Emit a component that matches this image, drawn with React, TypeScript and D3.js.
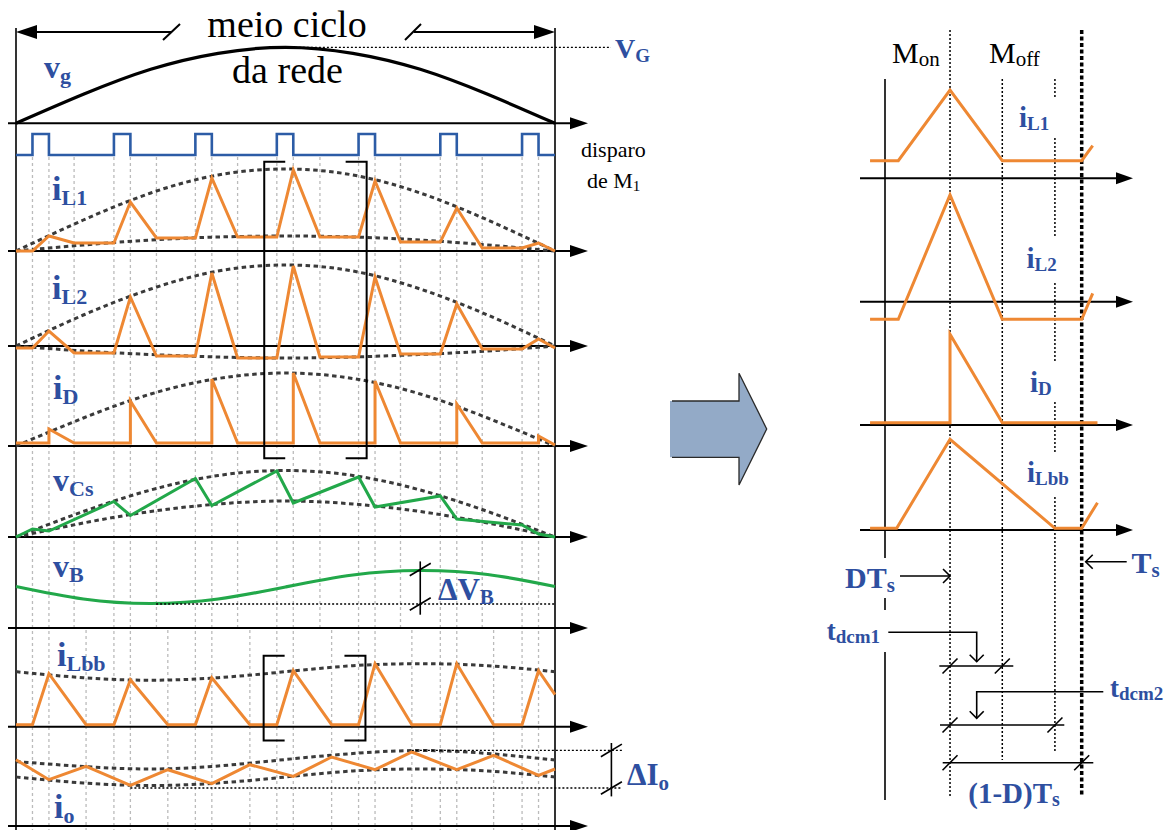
import React from 'react';
import * as d3 from 'd3';

// ---------------- data ----------------
// time along the half line cycle, in electrical degrees
const switchOn = [5.5, 32.7, 59.9, 87.1, 114.4, 141.7, 169.0];
const switchOff = [11.0, 38.2, 65.4, 92.6, 119.9, 147.2, 174.5];
const dcm1End = [19.4, 46.9, 74.0, 101.5, 128.4, 155.7];
const dcm2End = [23.4, 50.7, 78.1, 105.4, 132.2, 159.5];

// envelope sample instants
const envT = [0, 22.5, 45, 67.5, 90, 112.5, 135, 157.5, 180];
const vgVals = [0, 0.29, 0.54, 0.7, 0.76, 0.7, 0.54, 0.29, 0];
const iL1Upper = [0, 0.31, 0.58, 0.76, 0.82, 0.76, 0.58, 0.31, 0];
const iL1Lower = [0, 0.06, 0.11, 0.14, 0.15, 0.14, 0.11, 0.06, 0];
const iL2Upper = [0, 0.31, 0.57, 0.75, 0.81, 0.75, 0.57, 0.31, 0];
const iL2Lower = [0, -0.05, -0.085, -0.11, -0.12, -0.11, -0.085, -0.05, 0];
const iDUpper = [0, 0.28, 0.52, 0.675, 0.73, 0.675, 0.52, 0.28, 0];
const vCsUpper = [0, 0.255, 0.47, 0.615, 0.665, 0.615, 0.47, 0.255, 0];
const vCsLower = [0, 0.14, 0.255, 0.33, 0.36, 0.33, 0.255, 0.14, 0];
const vBVals = [0.415, 0.29, 0.245, 0.29, 0.41, 0.53, 0.575, 0.535, 0.415];
const iLbbUpper = [0.55, 0.49, 0.465, 0.49, 0.55, 0.61, 0.63, 0.61, 0.55];
const ioUpper = [0.645, 0.595, 0.57, 0.6, 0.665, 0.725, 0.755, 0.725, 0.66];
const ioLower = [0.49, 0.43, 0.405, 0.43, 0.49, 0.55, 0.57, 0.55, 0.49];

type P = [number, number];
const iL1Wave: P[] = [[0, 0], [5.5, 0], [11.0, 0.15], [19.4, 0.08], [32.7, 0.08], [38.2, 0.49], [46.9, 0.13], [59.9, 0.13], [65.4, 0.73], [74.0, 0.14], [87.1, 0.14], [92.6, 0.81], [101.5, 0.14], [114.4, 0.14], [119.9, 0.7], [128.4, 0.09], [141.7, 0.09], [147.2, 0.43], [155.7, 0.03], [169.0, 0.03], [174.5, 0.08], [180, 0]];
const iL2Wave: P[] = [[0, -0.02], [5.5, -0.02], [11.0, 0.15], [19.4, -0.07], [32.7, -0.07], [38.2, 0.49], [46.9, -0.1], [59.9, -0.1], [65.4, 0.73], [74.0, -0.12], [87.1, -0.12], [92.6, 0.8], [101.5, -0.11], [114.4, -0.11], [119.9, 0.69], [128.4, -0.08], [141.7, -0.08], [147.2, 0.42], [155.7, -0.03], [169.0, -0.03], [174.5, 0.07], [180, -0.02]];
const iDWave: P[] = [[0, 0.03], [11.0, 0.03], [11.0, 0.17], [19.4, 0.03], [38.2, 0.03], [38.2, 0.45], [46.9, 0.03], [65.4, 0.03], [65.4, 0.67], [74.0, 0.03], [92.6, 0.03], [92.6, 0.73], [101.5, 0.03], [119.9, 0.03], [119.9, 0.65], [128.4, 0.03], [147.2, 0.03], [147.2, 0.42], [155.7, 0.03], [174.5, 0.03], [174.5, 0.1], [180, 0.01]];
const vCsWave: P[] = [[0, 0], [5.5, 0.08], [11.0, 0.06], [32.7, 0.355], [38.2, 0.215], [59.9, 0.585], [65.4, 0.315], [87.1, 0.66], [92.6, 0.34], [114.4, 0.6], [119.9, 0.3], [141.7, 0.41], [147.2, 0.18], [169.0, 0.12], [174.5, 0.03], [180, 0]];
const iLbbWave: P[] = [[0, 0.02], [5.5, 0.02], [11.0, 0.53], [23.4, 0.02], [32.7, 0.02], [38.2, 0.47], [50.7, 0.02], [59.9, 0.02], [65.4, 0.49], [78.1, 0.02], [87.1, 0.02], [92.6, 0.56], [105.4, 0.02], [114.4, 0.02], [119.9, 0.63], [132.2, 0.02], [141.7, 0.02], [147.2, 0.63], [159.5, 0.02], [169.0, 0.02], [174.5, 0.56], [180, 0.32]];
const ioWave: P[] = [[0, 0.663], [11.0, 0.463], [23.4, 0.596], [38.2, 0.406], [50.7, 0.563], [65.4, 0.423], [78.1, 0.613], [92.6, 0.496], [105.4, 0.69], [119.9, 0.563], [132.2, 0.74], [147.2, 0.563], [159.5, 0.706], [174.5, 0.506], [180, 0.57]];

// one switching period (time / Ts)
const iL1Period: P[] = [[-0.154, 0.176], [0, 0.176], [0.282, 0.883], [0.567, 0.176], [1, 0.176], [1.06, 0.326]];
const iL2Period: P[] = [[-0.154, -0.176], [0, -0.176], [0.282, 1.067], [0.567, -0.176], [1, -0.176], [1.06, 0.084]];
const iDPeriod: P[] = [[-0.154, 0.023], [0.282, 0.023], [0.282, 0.907], [0.567, 0.023], [1.086, 0.023]];
const iLbbPeriod: P[] = [[-0.154, 0.017], [-0.009, 0.017], [0.282, 0.907], [0.854, 0.017], [1, 0.017], [1.086, 0.273]];
const dutyD = 0.282;
const tdcm1 = 0.567;
const tdcm2 = 0.854;

// ---------------- style ----------------
const SERIF = '"Liberation Serif", "Times New Roman", "DejaVu Serif", serif';
const ORANGE = '#EE8833';
const GREEN = '#22A84A';
const GATE = '#2C5CA6';
const LBL = '#2E4FA0';
const GRID = '#BBBBBB';
const ENV = '#3A3A3A';

function Lbl(props: { x: number; y: number; main: string; sub?: string; size?: number; subSize?: number; dy?: number; fill?: string; weight?: string; anchor?: string }) {
  const { x, y, main, sub, size = 34, subSize = 22, dy = 5, fill = LBL, weight = 'bold', anchor = 'start' } = props;
  return (
    <text x={x} y={y} fontFamily={SERIF} fontWeight={weight} fontSize={size} fill={fill} textAnchor={anchor as any}>
      {main}
      {sub ? <tspan fontSize={subSize} dy={dy}>{sub}</tspan> : null}
    </text>
  );
}

export default function App() {
  const xL = d3.scaleLinear().domain([0, 180]).range([16, 555]);
  const xR = d3.scaleLinear().domain([0, 1]).range([898.3, 1081.7]);
  const yP = (axis: number) => d3.scaleLinear().domain([0, 1]).range([axis, axis - 100]);
  const AX = { vg: 123.3, iL1: 251, iL2: 346, iD: 446, vCs: 537, vB: 628, iLbb: 726.7, io: 826 };
  const yVg = yP(AX.vg), yL1 = yP(AX.iL1), yL2 = yP(AX.iL2), yD = yP(AX.iD), yCs = yP(AX.vCs), yB = yP(AX.vB), yLbb = yP(AX.iLbb), yIo = yP(AX.io);
  const yGate = d3.scaleLinear().domain([0, 1]).range([155, 134]);
  const RAX = { iL1: 178.3, iL2: 301.7, iD: 425, iLbb: 530 };
  const yR1 = yP(RAX.iL1), yR2 = yP(RAX.iL2), yRD = yP(RAX.iD), yRL = yP(RAX.iLbb);

  const mk = (pts: P[], ys: d3.ScaleLinear<number, number>, xs: d3.ScaleLinear<number, number> = xL, curve: d3.CurveFactory = d3.curveLinear) =>
    d3.line<P>().x(d => xs(d[0])).y(d => ys(d[1])).curve(curve)(pts) || '';
  const env = (vals: number[]) => envT.map((t, i) => [t, vals[i]] as P);
  const smooth = (vals: number[], ys: d3.ScaleLinear<number, number>) => mk(env(vals), ys, xL, d3.curveNatural);

  const gatePts: P[] = [[0, 0]];
  switchOn.forEach((t, i) => { gatePts.push([t, 0], [t, 1], [switchOff[i], 1], [switchOff[i], 0]); });
  gatePts.push([180, 0]);

  const envStyle = { fill: 'none', stroke: ENV, strokeWidth: 3, strokeDasharray: '4.5 3.5' } as const;
  const waveStyle = (c: string) => ({ fill: 'none', stroke: c, strokeWidth: 3, strokeLinejoin: 'miter' as const });

  const slash = (x: number, y: number, w = 10.5, h = 6.3) => <line x1={x - w} y1={y + h} x2={x + w} y2={y - h} stroke="#000" strokeWidth={1.6} />;
  const arrowR = (x: number, y: number, len = 18, hw = 6) => <polygon points={`${x},${y} ${x - len},${y - hw} ${x - len},${y + hw}`} fill="#000" />;

  const leftAxes = Object.values(AX);
  const rightAxes = Object.values(RAX);

  const bracket = (t0: number, t1: number, top: number, bot: number) => {
    const x0 = xL(t0), x1 = xL(t1);
    return (
      <g fill="none" stroke="#000" strokeWidth={2}>
        <path d={`M${x0 + 21},${top} H${x0} V${bot} H${x0 + 21}`} />
        <path d={`M${x1 - 21},${top} H${x1} V${bot} H${x1 - 21}`} />
      </g>
    );
  };

  const openHead = (x: number, y: number, dir: 'r' | 'l' | 'd') => {
    const s = 7;
    let pts = '';
    if (dir === 'r') pts = `${x - s},${y - s} ${x},${y} ${x - s},${y + s}`;
    if (dir === 'l') pts = `${x + s},${y - s} ${x},${y} ${x + s},${y + s}`;
    if (dir === 'd') pts = `${x - s},${y - s} ${x},${y} ${x + s},${y - s}`;
    return <polyline points={pts} fill="none" stroke="#000" strokeWidth={1.6} />;
  };

  const xD = xR(dutyD), xT1 = xR(tdcm1), xT2 = xR(tdcm2), xTs = xR(1);
  const segs1055: P[] = [[79, 97], [138, 237], [283, 362], [402, 452], [497, 753]];

  return (
    <svg width={1173} height={830} style={{ position: 'absolute', left: 0, top: 0, background: '#fff' }}>
      <rect x={0} y={0} width={1173} height={830} fill="#fff" />
      {/* grey switching grid */}
      <g stroke={GRID} strokeWidth={1.3} strokeDasharray="3 3">
        {switchOn.concat(switchOff).map((t, i) => <line key={'g' + i} x1={xL(t)} x2={xL(t)} y1={157} y2={830} />)}
        {dcm1End.map((t, i) => <line key={'d1' + i} x1={xL(t)} x2={xL(t)} y1={157} y2={630} />)}
        {dcm2End.map((t, i) => <line key={'d2' + i} x1={xL(t)} x2={xL(t)} y1={630} y2={830} />)}
      </g>

      {/* top span arrow */}
      <g stroke="#000" strokeWidth={2}>
        <line x1={30} y1={32} x2={171} y2={32} />
        <line x1={414} y1={32} x2={540} y2={32} />
      </g>
      <polygon points="16,32 37,25 37,39" fill="#000" />
      <polygon points="555,32 534,25 534,39" fill="#000" />
      <line x1={163} y1={40} x2={180} y2={24} stroke="#000" strokeWidth={2} />
      <line x1={405} y1={40} x2={421} y2={24} stroke="#000" strokeWidth={2} />
      <text x={287} y={37} textAnchor="middle" fontFamily={SERIF} fontSize={38}>meio ciclo</text>
      <text x={287.5} y={83} textAnchor="middle" fontFamily={SERIF} fontSize={38}>da rede</text>

      {/* V_G reference */}
      <line x1={xL(91.8)} x2={xL(198.7)} y1={yVg(0.76)} y2={yVg(0.76)} stroke="#000" strokeWidth={1.3} strokeDasharray="2 2" />
      <Lbl x={615} y={57.5} main="V" sub="G" size={28} subSize={19} dy={4} />

      {/* borders */}
      <line x1={16} x2={16} y1={28} y2={830} stroke="#000" strokeWidth={1.6} />
      <line x1={555} x2={555} y1={28} y2={830} stroke="#000" strokeWidth={1.6} />

      {/* axes left */}
      {leftAxes.map((y, i) => (
        <g key={'ax' + i}>
          <line x1={8} x2={575} y1={y} y2={y} stroke="#000" strokeWidth={2} />
          {arrowR(588, y)}
        </g>
      ))}

      {/* envelopes */}
      <path d={smooth(iL1Upper, yL1)} {...envStyle} />
      <path d={smooth(iL1Lower, yL1)} {...envStyle} />
      <path d={smooth(iL2Upper, yL2)} {...envStyle} />
      <path d={smooth(iL2Lower, yL2)} {...envStyle} />
      <path d={smooth(iDUpper, yD)} {...envStyle} />
      <path d={smooth(vCsUpper, yCs)} {...envStyle} />
      <path d={smooth(vCsLower, yCs)} {...envStyle} />
      <path d={smooth(iLbbUpper, yLbb)} {...envStyle} />
      <path d={smooth(ioUpper, yIo)} {...envStyle} />
      <path d={smooth(ioLower, yIo)} {...envStyle} />

      {/* vg and gate */}
      <path d={smooth(vgVals, yVg)} fill="none" stroke="#000" strokeWidth={3.2} />
      <path d={mk(gatePts, yGate)} fill="none" stroke={GATE} strokeWidth={2.6} />

      {/* waveforms */}
      <path d={mk(iL1Wave, yL1)} {...waveStyle(ORANGE)} />
      <path d={mk(iL2Wave, yL2)} {...waveStyle(ORANGE)} />
      <path d={mk(iDWave, yD)} {...waveStyle(ORANGE)} />
      <path d={mk(vCsWave, yCs)} {...waveStyle(GREEN)} />
      <path d={smooth(vBVals, yB)} fill="none" stroke={GREEN} strokeWidth={3.2} />
      <path d={mk(iLbbWave, yLbb)} {...waveStyle(ORANGE)} />
      <path d={mk(ioWave, yIo)} {...waveStyle(ORANGE)} />

      {/* brackets */}
      {bracket(82.9, 117.1, 161.7, 458.3)}
      {bracket(82.7, 116.7, 655.7, 740.4)}

      {/* delta V_B */}
      <line x1={xL(46.8)} x2={555} y1={yB(0.24)} y2={yB(0.24)} stroke="#000" strokeWidth={1.4} strokeDasharray="2 2" />
      <line x1={xL(135)} x2={xL(135)} y1={yB(0.666)} y2={yB(0.133)} stroke="#000" strokeWidth={1.6} />
      {slash(xL(135), yB(0.585))}
      {slash(xL(135), yB(0.24))}
      <Lbl x={438} y={600} main="ΔV" sub="B" size={31} subSize={21} dy={4} />

      {/* delta I_o */}
      <line x1={xL(132.2)} x2={622} y1={yIo(0.756)} y2={yIo(0.756)} stroke="#000" strokeWidth={1.4} strokeDasharray="2 2" />
      <line x1={xL(38.2)} x2={622} y1={yIo(0.38)} y2={yIo(0.38)} stroke="#000" strokeWidth={1.4} strokeDasharray="2 2" />
      <line x1={611.4} x2={611.4} y1={743} y2={796.4} stroke="#000" strokeWidth={1.6} />
      {slash(611.4, yIo(0.756))}
      {slash(611.4, yIo(0.38))}
      <Lbl x={627} y={784.7} main="ΔI" sub="o" size={31} subSize={21} dy={5} />

      {/* left labels */}
      <Lbl x={44} y={78} main="v" sub="g" size={32} />
      <Lbl x={52} y={200} main="i" sub="L1" />
      <Lbl x={52} y={299} main="i" sub="L2" />
      <Lbl x={53} y={399} main="i" sub="D" />
      <Lbl x={53} y={491} main="v" sub="Cs" size={32} />
      <Lbl x={53} y={577} main="v" sub="B" size={32} />
      <Lbl x={57} y={666} main="i" sub="Lbb" />
      <Lbl x={54} y={818} main="i" sub="o" />

      <text x={581} y={157} fontFamily={SERIF} fontSize={22}>disparo</text>
      <text x={587} y={188} fontFamily={SERIF} fontSize={22}>de M<tspan fontSize={15} dy={3}>1</tspan></text>

      {/* central block arrow */}
      <polygon points="670,401 739,401 739,373.3 766.7,429 739,485 739,457.3 670,457.3" fill="#93AAC7" />
      <polyline points="672,401 739,401 739,373.3 766.7,429 739,485 739,457.3 672,457.3" fill="none" stroke="#2a2a2a" strokeWidth={1.3} />

      {/* right panel: guides */}
      <g stroke="#000" strokeWidth={1.6}>
        <line x1={885} x2={885} y1={79} y2={558} />
        <line x1={885} x2={885} y1={598} y2={610} />
        <line x1={885} x2={885} y1={652} y2={800} />
      </g>
      <g stroke="#000" strokeWidth={1.5} strokeDasharray="2 2">
        <line x1={xD} x2={xD} y1={30} y2={797} />
        <line x1={xT1} x2={xT1} y1={79} y2={760} />
        {segs1055.map((s, i) => <line key={'s' + i} x1={xT2} x2={xT2} y1={s[0]} y2={s[1]} />)}
      </g>
      <line x1={xTs} x2={xTs} y1={30} y2={797} stroke="#000" strokeWidth={3.5} strokeDasharray="4 2.5" />

      {rightAxes.map((y, i) => (
        <g key={'rax' + i}>
          <line x1={860} x2={1120} y1={y} y2={y} stroke="#000" strokeWidth={2} />
          {arrowR(1133, y, 17, 6)}
        </g>
      ))}

      <path d={mk(iL1Period, yR1, xR)} {...waveStyle(ORANGE)} />
      <path d={mk(iL2Period, yR2, xR)} {...waveStyle(ORANGE)} />
      <path d={mk(iDPeriod, yRD, xR)} {...waveStyle(ORANGE)} />
      <path d={mk(iLbbPeriod, yRL, xR)} {...waveStyle(ORANGE)} />

      <Lbl x={892} y={63} main="M" sub="on" size={30} subSize={21} dy={3} weight="normal" fill="#000" />
      <Lbl x={989} y={63} main="M" sub="off" size={30} subSize={21} dy={3} weight="normal" fill="#000" />
      <Lbl x={1019} y={127} main="i" sub="L1" size={29} subSize={19} dy={3} />
      <Lbl x={1026.5} y={268} main="i" sub="L2" size={29} subSize={19} dy={3} />
      <Lbl x={1030} y={392} main="i" sub="D" size={29} subSize={19} dy={3} />
      <Lbl x={1027} y={482} main="i" sub="Lbb" size={29} subSize={19} dy={3} />

      {/* timing annotations */}
      <Lbl x={845} y={588} main="DT" sub="s" size={30} subSize={21} dy={4} />
      <line x1={900} x2={xD} y1={576} y2={576} stroke="#000" strokeWidth={1.6} />
      {openHead(xD, 576, 'r')}
      <Lbl x={1131.5} y={573} main="T" sub="s" size={30} subSize={21} dy={4} />
      <line x1={1126.7} x2={xTs + 4} y1={561.7} y2={561.7} stroke="#000" strokeWidth={1.6} />
      {openHead(xTs + 4, 561.7, 'l')}

      <Lbl x={826.7} y={640} main="t" sub="dcm1" size={27} subSize={19} dy={3} />
      <polyline points={`888.3,632.3 976.7,632.3 976.7,661.7`} fill="none" stroke="#000" strokeWidth={1.6} />
      {openHead(976.7, 661.7, 'd')}
      <Lbl x={1110} y={696.7} main="t" sub="dcm2" size={27} subSize={19} dy={3} />
      <polyline points={`1103.3,691.7 976.7,691.7 976.7,718.3`} fill="none" stroke="#000" strokeWidth={1.6} />
      {openHead(976.7, 718.3, 'd')}

      <g stroke="#000" strokeWidth={1.6}>
        <line x1={939.3} x2={1013.3} y1={666} y2={666} />
        <line x1={940} x2={1064.3} y1={725} y2={725} />
        <line x1={942.7} x2={1093.3} y1={762.7} y2={762.7} />
      </g>
      {slash(xD, 666, 7.5, 7.5)}
      {slash(xT1, 666, 7.5, 7.5)}
      {slash(xD, 725, 7.5, 7.5)}
      {slash(xT2, 725, 7.5, 7.5)}
      {slash(xD, 762.7, 7.5, 7.5)}
      {slash(xTs, 762.7, 7.5, 7.5)}
      <Lbl x={968.3} y={803} main="(1-D)T" sub="s" size={29} subSize={20} dy={3} />
    </svg>
  );
}
